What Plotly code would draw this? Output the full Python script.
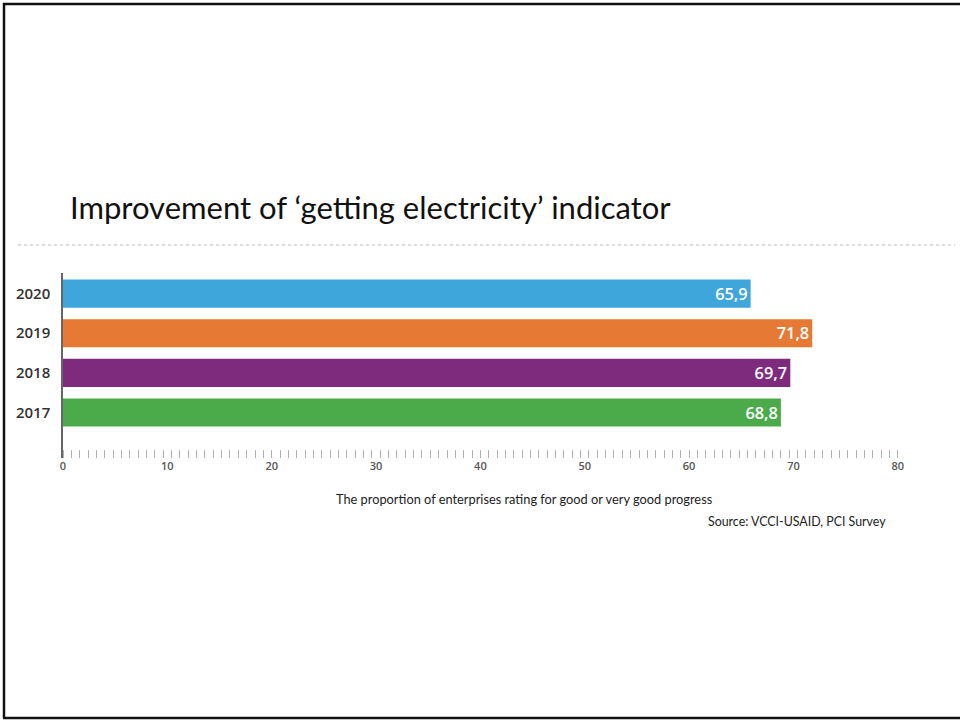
import plotly.graph_objects as go

years = ["2020", "2019", "2018", "2017"]
values = [65.9, 71.8, 69.7, 68.8]
labels = ["65,9", "71,8", "69,7", "68,8"]
colors = ["#3fa6dc", "#e67a35", "#7e2b7e", "#4bab4a"]
x_ticks = [0, 10, 20, 30, 40, 50, 60, 70, 80]

title = "Improvement of \u2018getting electricity\u2019 indicator"
axis_note = "The proportion of enterprises rating for good or very good progress"
source = "Source: VCCI-USAID, PCI Survey"

W, H = 960, 721
x_max = 80.5
L, T, B = 63, 273, 263
R = round(W - L - x_max * 10.435)
pw, ph = W - L - R, H - T - B


def px(x):
    return (x - L) / pw


def py(y):
    return (H - B - y) / ph


fig = go.Figure(go.Bar(
    y=years,
    x=values,
    orientation="h",
    marker=dict(color=colors, line=dict(width=0)),
    text=labels,
    textposition="inside",
    insidetextanchor="end",
    textfont=dict(family="Open Sans", size=17, color="white", weight=600),
    hoverinfo="skip",
))

fig.update_layout(
    width=W, height=H,
    margin=dict(l=L, r=R, t=T, b=B),
    plot_bgcolor="white",
    paper_bgcolor="white",
    bargap=0.29,
    showlegend=False,
    xaxis=dict(
        range=[0, x_max],
        tickvals=x_ticks,
        ticks="",
        showgrid=False,
        zeroline=False,
        showline=False,
        tickfont=dict(family="Open Sans", size=11, color="#555", weight=600),
        minor=dict(ticks="inside", tick0=0.8, dtick=0.8, ticklen=8,
                   tickcolor="#b0b0b0", tickwidth=1, showgrid=False),
    ),
    yaxis=dict(
        categoryorder="array",
        categoryarray=years[::-1],
        range=[-1.15, 3.52],
        showline=True,
        linecolor="#666",
        linewidth=1.5,
        showgrid=False,
        ticks="",
        ticklabelstandoff=8,
        tickfont=dict(family="Open Sans", size=15, color="#333", weight=600),
    ),
)

# title, axis note and source
fig.add_annotation(text=title, x=px(68), y=py(207), xref="paper", yref="paper",
                   xanchor="left", yanchor="middle", showarrow=False,
                   font=dict(family="Lato", size=31, color="#111"))
fig.add_annotation(text=axis_note, x=px(524), y=py(499), xref="paper", yref="paper",
                   xanchor="center", yanchor="middle", showarrow=False,
                   font=dict(family="Lato", size=12.8, color="#222"))
fig.add_annotation(text=source, x=px(888), y=py(521), xref="paper", yref="paper",
                   xanchor="right", yanchor="middle", showarrow=False,
                   font=dict(family="Lato", size=12.4, color="#222"))

# dotted separator under the title
fig.add_shape(type="line", xref="paper", yref="paper",
              x0=px(18), x1=px(955), y0=py(245), y1=py(245),
              line=dict(color="#bbb", width=1, dash="dot"))

# frame: top, left, bottom
for x0, y0, x1, y1 in [(3, 4, 960, 4), (4, 3, 4, 718), (3, 718, 960, 718)]:
    fig.add_shape(type="line", xref="paper", yref="paper",
                  x0=px(x0), x1=px(x1), y0=py(y0), y1=py(y1),
                  line=dict(color="#111", width=2.5))

fig.write_html("out.html", config={"displayModeBar": False},
               post_script="document.body.style.margin='0';")
